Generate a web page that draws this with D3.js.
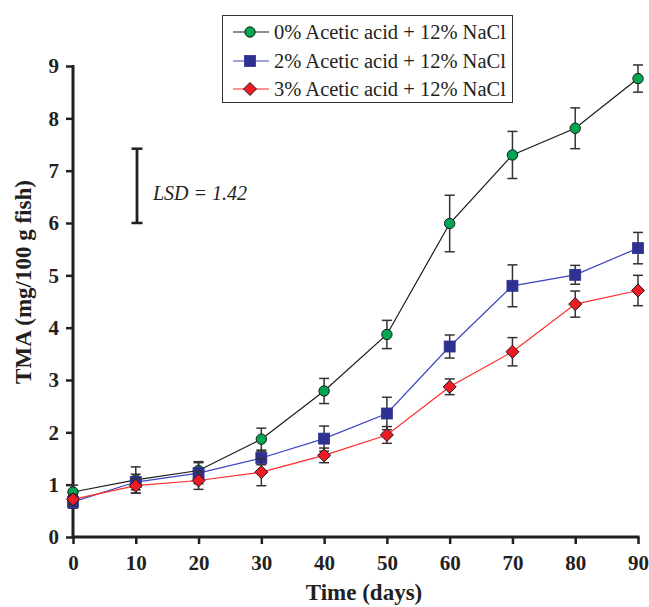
<!DOCTYPE html>
<html>
<head>
<meta charset="utf-8">
<script src="https://cdn.jsdelivr.net/npm/d3@7"></script>
<style>
  html, body { margin: 0; padding: 0; background: #fff; }
  svg { display: block; }
  text { font-family: "Liberation Serif", "Times New Roman", serif; fill: #231f20; }
</style>
</head>
<body>
<svg id="chart" width="649" height="607"></svg>
<script>
// Storage time (days)
const days = [0, 10, 20, 30, 40, 50, 60, 70, 80, 90];

// TMA means (mg/100 g fish) per treatment
const tma0 = [0.86, 1.09, 1.27, 1.87, 2.79, 3.87, 5.99, 7.30, 7.81, 8.76];
const tma2 = [0.67, 1.05, 1.22, 1.51, 1.88, 2.36, 3.64, 4.80, 5.01, 5.52];
const tma3 = [0.72, 0.98, 1.08, 1.24, 1.56, 1.95, 2.87, 3.54, 4.45, 4.71];

// Standard deviations (error bar half-lengths)
const sd0 = [0.13, 0.25, 0.17, 0.21, 0.24, 0.27, 0.54, 0.45, 0.39, 0.26];
const sd2 = [0.12, 0.15, 0.20, 0.13, 0.24, 0.31, 0.22, 0.40, 0.18, 0.30];
const sd3 = [0.10, 0.14, 0.17, 0.26, 0.14, 0.16, 0.15, 0.27, 0.25, 0.29];

const seriesLabels = [
  "0% Acetic acid + 12% NaCl",
  "2% Acetic acid + 12% NaCl",
  "3% Acetic acid + 12% NaCl"
];

const xTicks = [0, 10, 20, 30, 40, 50, 60, 70, 80, 90];
const yTicks = [0, 1, 2, 3, 4, 5, 6, 7, 8, 9];

// Least significant difference marker
const lsdBase = 6.0;
const lsdValue = 1.42;

const series = [
  { name: seriesLabels[0], values: tma0, sd: sd0, shape: "circle",  fill: "#00a651", stroke: "#1a1a1a", line: "#1a1a1a" },
  { name: seriesLabels[1], values: tma2, sd: sd2, shape: "square",  fill: "#2e3192", stroke: "#2e3192", line: "#3c45c0" },
  { name: seriesLabels[2], values: tma3, sd: sd3, shape: "diamond", fill: "#ed1c24", stroke: "#1a1a1a", line: "#ff2b2b" }
];

const svg = d3.select("#chart");

const x = d3.scaleLinear().domain([0, 90]).range([73, 638]);
const y = d3.scaleLinear().domain([0, 9]).range([537, 66]);

// Marker drawing helper
function drawMarker(g, shape, cx, cy, s) {
  if (shape === "circle") {
    g.append("circle").attr("cx", cx).attr("cy", cy).attr("r", 5.2)
      .attr("fill", s.fill).attr("stroke", s.stroke).attr("stroke-width", 1);
  } else if (shape === "square") {
    g.append("rect").attr("x", cx - 5.5).attr("y", cy - 5.5)
      .attr("width", 11).attr("height", 11)
      .attr("fill", s.fill).attr("stroke", s.stroke).attr("stroke-width", 0.8);
  } else {
    const r = 6.5;
    g.append("path")
      .attr("d", `M${cx},${cy - r}L${cx + r},${cy}L${cx},${cy + r}L${cx - r},${cy}Z`)
      .attr("fill", s.fill).attr("stroke", s.stroke).attr("stroke-width", 1);
  }
}

// Axes
const xAxis = d3.axisBottom(x).tickValues(xTicks).tickSize(7).tickPadding(10).tickFormat(d3.format("d"));
const yAxis = d3.axisLeft(y).tickValues(yTicks).tickSize(7).tickPadding(7).tickFormat(d3.format("d"));

const gx = svg.append("g").attr("transform", `translate(0,${y(0)})`).call(xAxis);
const gy = svg.append("g").attr("transform", `translate(${x(0)},0)`).call(yAxis);

[gx, gy].forEach(g => {
  g.attr("font-family", null);
  g.select(".domain").attr("stroke", "#231f20").attr("stroke-width", 3);
  g.selectAll(".tick line").attr("stroke", "#231f20").attr("stroke-width", 2.5);
  g.selectAll(".tick text")
    .attr("fill", "#231f20")
    .style("font-family", '"Liberation Serif", "Times New Roman", serif')
    .style("font-size", "21px")
    .style("font-weight", "bold");
});
gx.select(".domain").attr("d", `M${x(0) - 1.5},0H${x(90) + 1.5}`);
gy.select(".domain").attr("d", `M0,${y(9) - 1}V${y(0) + 1.5}`);
gx.selectAll(".tick text").attr("dy", "0.75em");
gy.selectAll(".tick text").attr("x", -14);

// Axis titles
svg.append("text")
  .attr("x", 364).attr("y", 600)
  .attr("text-anchor", "middle")
  .style("font-size", "23px").style("font-weight", "bold")
  .text("Time (days)");

svg.append("text")
  .attr("transform", "translate(31,282) rotate(-90)")
  .attr("text-anchor", "middle")
  .style("font-size", "23px").style("font-weight", "bold")
  .text("TMA (mg/100 g fish)");

// LSD bar
const lsdX = 137;
const lsd = svg.append("g");
lsd.append("line").attr("x1", lsdX).attr("x2", lsdX)
  .attr("y1", y(lsdBase)).attr("y2", y(lsdBase + lsdValue))
  .attr("stroke", "#231f20").attr("stroke-width", 2.8);
[lsdBase, lsdBase + lsdValue].forEach(v => {
  lsd.append("line").attr("x1", lsdX - 5.5).attr("x2", lsdX + 5.5)
    .attr("y1", y(v)).attr("y2", y(v))
    .attr("stroke", "#231f20").attr("stroke-width", 2.5);
});
lsd.append("text")
  .attr("x", 153).attr("y", 200)
  .style("font-size", "20px").style("font-style", "italic")
  .text(`LSD = ${lsdValue.toFixed(2)}`);

// Data lines, error bars and markers
const line = d3.line().x((d, i) => x(days[i])).y(d => y(d));

series.forEach(s => {
  const g = svg.append("g");
  g.append("path").datum(s.values)
    .attr("d", line)
    .attr("fill", "none").attr("stroke", s.line).attr("stroke-width", 1.2);

  const eb = g.append("g").attr("stroke", "#333").attr("stroke-width", 1.5);
  s.values.forEach((v, i) => {
    const cx = x(days[i]);
    const lo = y(v - s.sd[i]), hi = y(v + s.sd[i]);
    eb.append("line").attr("x1", cx).attr("x2", cx).attr("y1", lo).attr("y2", hi);
    eb.append("line").attr("x1", cx - 5).attr("x2", cx + 5).attr("y1", lo).attr("y2", lo);
    eb.append("line").attr("x1", cx - 5).attr("x2", cx + 5).attr("y1", hi).attr("y2", hi);
  });

  s.values.forEach((v, i) => drawMarker(g, s.shape, x(days[i]), y(v), s));
});

// Legend
const legend = svg.append("g");
legend.append("rect")
  .attr("x", 222.5).attr("y", 15.5).attr("width", 290).attr("height", 87)
  .attr("fill", "#fff").attr("stroke", "#333").attr("stroke-width", 1);
const rowY = [32, 61, 89];
series.forEach((s, i) => {
  const ly = rowY[i];
  legend.append("line").attr("x1", 233).attr("x2", 269).attr("y1", ly).attr("y2", ly)
    .attr("stroke", s.line).attr("stroke-width", 1.2);
  drawMarker(legend, s.shape, 250, ly, s);
  legend.append("text")
    .attr("x", 274).attr("y", ly).attr("dy", "0.35em")
    .style("font-size", "20.5px")
    .text(s.name);
});
</script>
</body>
</html>
